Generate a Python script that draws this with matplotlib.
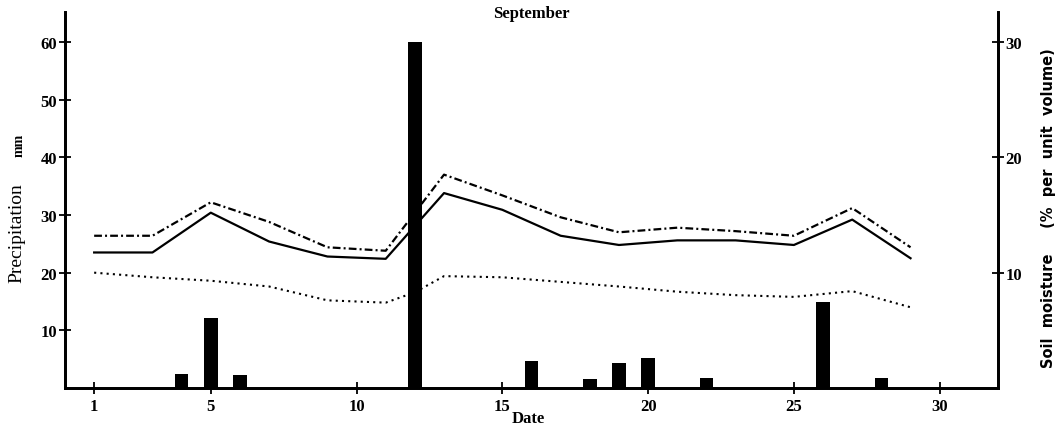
import matplotlib.pyplot as plt

# precipitation (mm) per day
rain_days = [4, 5, 6, 12, 16, 18, 19, 20, 22, 26, 28]
rain_mm = [2.4, 12.1, 2.3, 60.0, 4.7, 1.6, 4.3, 5.2, 1.7, 14.9, 1.7]

# soil moisture (% per unit volume)
moist_days = [1, 3, 5, 7, 9, 11, 13, 15, 17, 19, 21, 23, 25, 27, 29]
moist_dashdot = [13.2, 13.2, 16.1, 14.4, 12.2, 11.9, 18.5, 16.7, 14.8, 13.5, 13.9, 13.6, 13.2, 15.6, 12.2]
moist_solid = [11.75, 11.75, 15.2, 12.7, 11.4, 11.2, 16.9, 15.45, 13.2, 12.4, 12.8, 12.8, 12.4, 14.6, 11.25]
dot_days = [1, 3, 5, 7, 9, 11, 12, 13, 15, 17, 19, 21, 23, 25, 27, 29]
moist_dotted = [10.0, 9.6, 9.3, 8.8, 7.6, 7.4, 8.3, 9.7, 9.6, 9.2, 8.8, 8.35, 8.05, 7.9, 8.4, 7.0]

xticks = [1, 5, 10, 15, 20, 25, 30]

serif = 'Liberation Serif'

fig = plt.figure(figsize=(10.64, 4.27), dpi=100)
ax = fig.add_axes([65 / 1064, 1 - 389 / 427, (998 - 65) / 1064, (389 - 13) / 427])
ax2 = ax.twinx()

# bars on top of the lines
ax.set_zorder(ax2.get_zorder() + 1)
ax.patch.set_visible(False)

ax.bar(rain_days, rain_mm, width=0.47, color='black')

ax2.plot(moist_days, moist_dashdot, color='black', lw=1.6, ls=(0, (3.5, 1.4, 0.9, 1.4)))
ax2.plot(moist_days, moist_solid, color='black', lw=1.6)
ax2.plot(dot_days, moist_dotted, color='black', lw=1.5, ls=(0, (1, 2)))

ax.set_xlim(0, 32)
ax.set_ylim(0, 65.2)
ax2.set_ylim(0, 32.6)

for a in (ax, ax2):
    for s in a.spines.values():
        s.set_linewidth(2)
    a.spines['top'].set_visible(False)

ax.set_yticks([10, 20, 30, 40, 50, 60])
ax.set_xticks(xticks)
ax2.set_yticks([10, 20, 30])
ax.tick_params(axis='y', direction='inout', length=9, width=1.3, labelsize=12, pad=1)
ax.tick_params(axis='x', direction='inout', length=8, width=1.3, labelsize=12, pad=3)
ax2.tick_params(axis='y', direction='inout', length=9, width=1.3, labelsize=12, pad=1)
for lab in ax.get_xticklabels() + ax.get_yticklabels() + ax2.get_yticklabels():
    lab.set_fontfamily(serif)
    lab.set_fontweight('bold')

fig.text(531 / 1064, 1 - 14 / 427, 'September', ha='center', va='center',
         family=serif, fontweight='bold', fontsize=12)
fig.text(528 / 1064, 1 - 419 / 427, 'Date', ha='center', va='center',
         family=serif, fontweight='bold', fontsize=12)
fig.text(17 / 1064, 1 - 233 / 427, 'Precipitation', ha='center', va='center',
         rotation=90, family=serif, fontsize=14)
fig.text(19 / 1064, 1 - 145 / 427, 'mm', ha='center', va='center',
         rotation=90, family=serif, fontsize=10, fontweight='bold')
fig.text(1048 / 1064, 1 - 208 / 427, 'Soil  moisture     (%  per  unit  volume)', ha='center', va='center',
         rotation=90, family='DejaVu Sans', fontsize=10.5, fontweight='bold')

fig.savefig('out.png', dpi=100)
